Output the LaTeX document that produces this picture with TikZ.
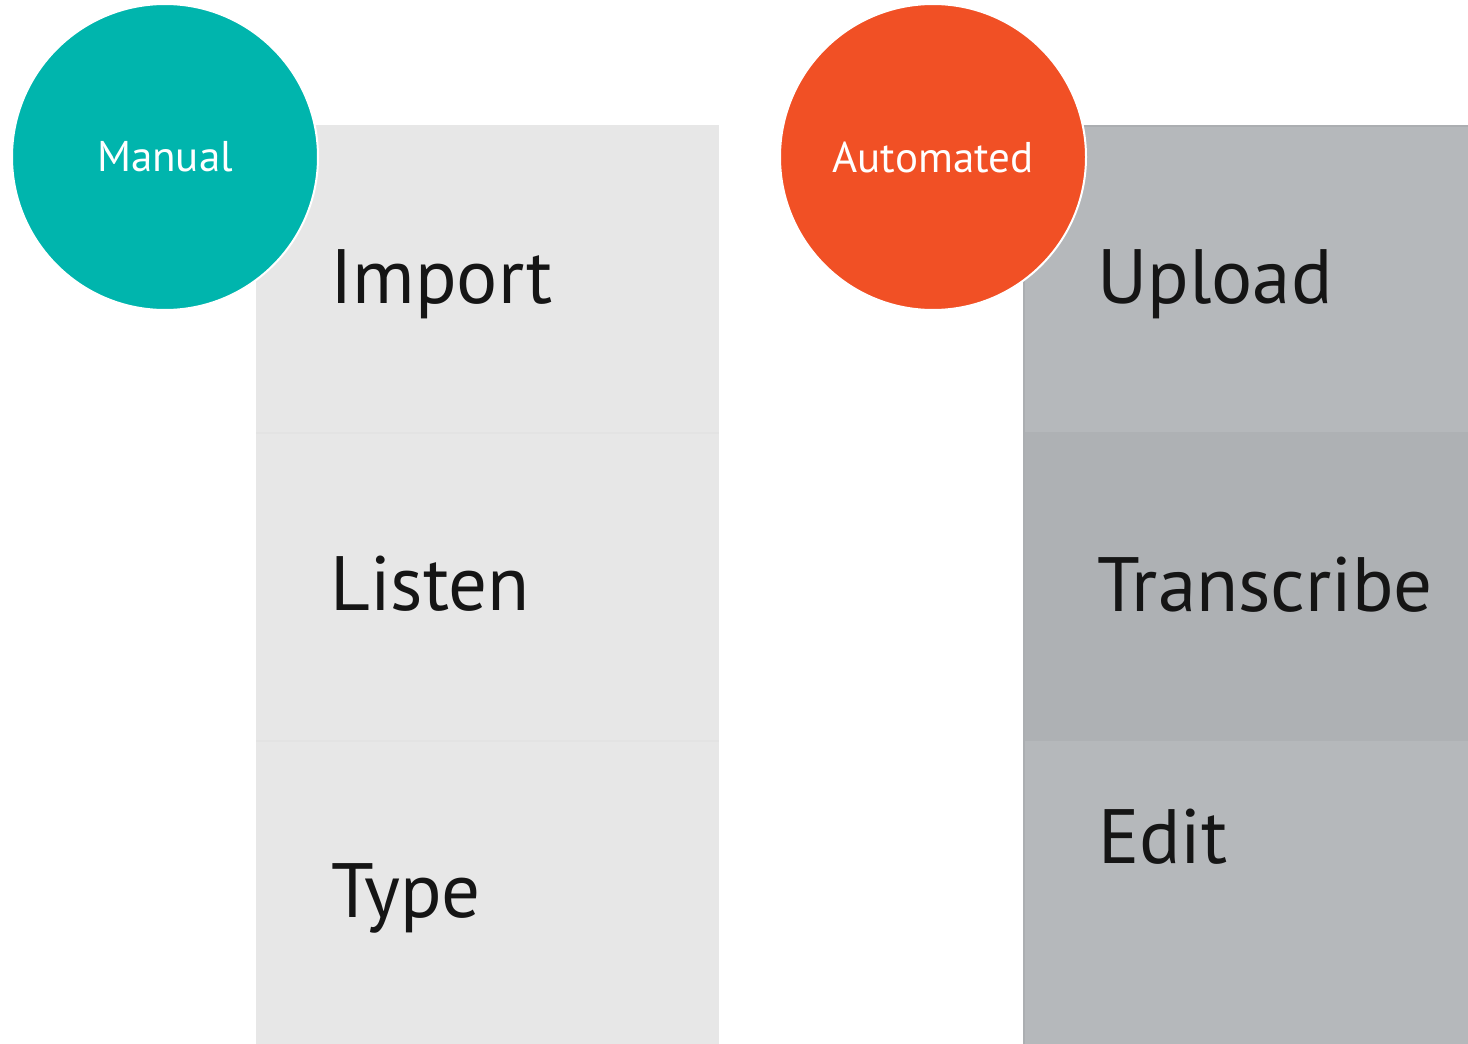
\documentclass[tikz,border=0pt]{standalone}
\usepackage{fontspec}
\setmainfont{PT Sans}
\definecolor{manualteal}{HTML}{00B5AD}
\definecolor{autoorange}{HTML}{F15025}
\definecolor{lightband}{HTML}{E7E7E7}
\definecolor{lightline}{HTML}{E3E3E3}
\definecolor{darkband}{HTML}{B5B8BB}
\definecolor{darkmid}{HTML}{AEB1B4}
\definecolor{darkedge}{HTML}{ABAEB1}
\definecolor{steptext}{HTML}{151515}
\begin{document}
\begin{tikzpicture}[x=1pt, y=-1pt,
    stepname/.style={anchor=base west, inner sep=0pt, text=steptext,
        font=\fontsize{77}{77}\selectfont},
    bubble/.style={circle, draw=white, line width=2pt, minimum size=306pt,
        inner sep=0pt, text=white, font=\fontsize{43}{43}\selectfont}]
    \useasboundingbox (0,0) rectangle (1468,1044);

    % manual column
    \fill[lightband] (256,125) rectangle (719,1044);
    \draw[lightline, line width=2pt] (256,433) -- (719,433);
    \draw[lightline, line width=2pt] (256,741) -- (719,741);

    % automated column
    \fill[darkband] (1023,125) rectangle (1468,1044);
    \fill[darkmid] (1023,432) rectangle (1468,741);
    \draw[darkedge, line width=1.5pt] (1024,1044) -- (1024,126) -- (1468,126);

    \draw (165,157) node[bubble, fill=manualteal] (manual) {Manual};
    \draw (933,157) node[bubble, fill=autoorange] (automated) {Automated};

    \draw (330,303) node[stepname] (import) {Import};
    \draw (330,610) node[stepname] (listen) {Listen};
    \draw (331,917) node[stepname] (type) {Type};

    \draw (1097,303) node[stepname] (upload) {Upload};
    \draw (1097,611) node[stepname] (transcribe) {Transcribe};
    \draw (1098,863) node[stepname] (edit) {Edit};
\end{tikzpicture}
\end{document}
